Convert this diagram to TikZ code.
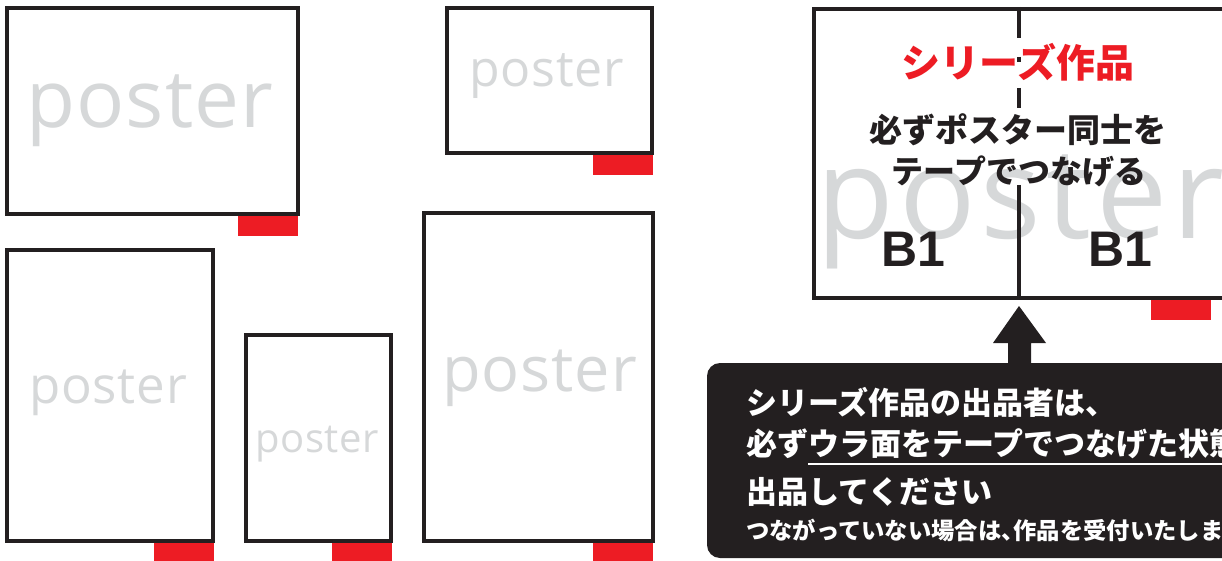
\documentclass[tikz,border=0pt]{standalone}
\usepackage{fontspec}
\newfontfamily\jp{Noto Sans CJK JP}
\newfontfamily\pf{Open Sans}[LetterSpace=1.5]
\newfontfamily\pfwide{Open Sans}[LetterSpace=4]
\newfontfamily\arialf{Liberation Sans}
\definecolor{inkblack}{HTML}{231F20}
\definecolor{tabred}{HTML}{ED1C24}
\definecolor{postergray}{HTML}{D6D8D9}
\tikzset{
  frame/.style={draw=inkblack, line width=4pt, fill=white},
  tab/.style={fill=tabred, draw=none},
  postxt/.style={anchor=base west, inner sep=0pt, text=postergray},
  jptxt/.style={inner sep=0pt},
  boxtxt/.style={anchor=west, inner sep=0pt, text=white, font=\jp\bfseries\fontsize{31}{31}\selectfont},
}
\newcommand\pfs[1]{\pf\fontsize{#1}{#1}\selectfont}
\begin{document}
\begin{tikzpicture}[x=1pt,y=-1pt]
\useasboundingbox (0,0) rectangle (1222,561);
\clip (0,0) rectangle (1222,561);
% left-hand posters
\draw[frame] (7,8.5) rectangle (298,214);
\fill[tab] (238,216) rectangle (298,236);
\node[postxt, font=\pfs{80}] (p1) at (26,128) {poster};

\draw[frame] (447,8) rectangle (652,153);
\fill[tab] (593,155) rectangle (653,175);
\node[postxt, font=\pfs{50}] (p2) at (469,87) {poster};

\draw[frame] (7,250) rectangle (213,541);
\fill[tab] (154,543) rectangle (214,561);
\node[postxt, font=\pfs{51}] (p3) at (29,403) {poster};

\draw[frame] (246,335) rectangle (391,541);
\fill[tab] (332,543) rectangle (392,561);
\node[postxt, font=\pfs{40}] (p4) at (255,452) {poster};

\draw[frame] (424,213) rectangle (653,541);
\fill[tab] (593,543) rectangle (653,561);
\node[postxt, font=\pfs{63}] (p5) at (442,391) {poster};

% series poster (two B1 sheets)
\draw[frame] (814,9) rectangle (1240,298);
\fill[tab] (1151,300) rectangle (1211,320);
\node[postxt, font=\pfwide\fontsize{127}{127}\selectfont] (p6) at (816,238) {poster};
\draw[inkblack, line width=3.5pt]
  (1019,7) -- (1019,38)
  (1019,57) -- (1019,62)
  (1019,88) -- (1019,108)
  (1019,185) -- (1019,298);
\node[jptxt, text=tabred, font=\jp\bfseries\fontsize{39}{39}\selectfont] (title) at (1018,62) {シリーズ作品};
\node[jptxt, text=inkblack, font=\jp\bfseries\fontsize{33}{33}\selectfont] (l1) at (1018,130) {必ずポスター同士を};
\node[jptxt, text=inkblack, font=\jp\bfseries\fontsize{32}{32}\selectfont] (l2) at (1019,171) {テープでつなげる};
\node[jptxt, text=inkblack, font=\arialf\bfseries\fontsize{50}{50}\selectfont] (b1a) at (913,249) {B1};
\node[jptxt, text=inkblack, font=\arialf\bfseries\fontsize{50}{50}\selectfont] (b1b) at (1120,249) {B1};

% note box with arrow
\fill[inkblack] (1019,306) -- (1046,343) -- (1031,343) -- (1031,366) -- (1008,366) -- (1008,343) -- (993,343) -- cycle;
\fill[inkblack, rounded corners=13pt] (707,363) rectangle (1260,558);
\node[boxtxt] (n1) at (746,402) {シリーズ作品の出品者は、};
\node[boxtxt] (n2) at (746,444) {必ずウラ面をテープでつなげた状態で};
\draw[white, line width=2.2pt] (808,464) -- (1240,464);
\node[boxtxt] (n3) at (746,492) {出品してください};
\node[boxtxt, font=\jp\bfseries\fontsize{23.3}{23.3}\selectfont] (n4) at (746,530) {つながっていない場合は、\kern-11pt 作品を受付いたしません};
\end{tikzpicture}
\end{document}
